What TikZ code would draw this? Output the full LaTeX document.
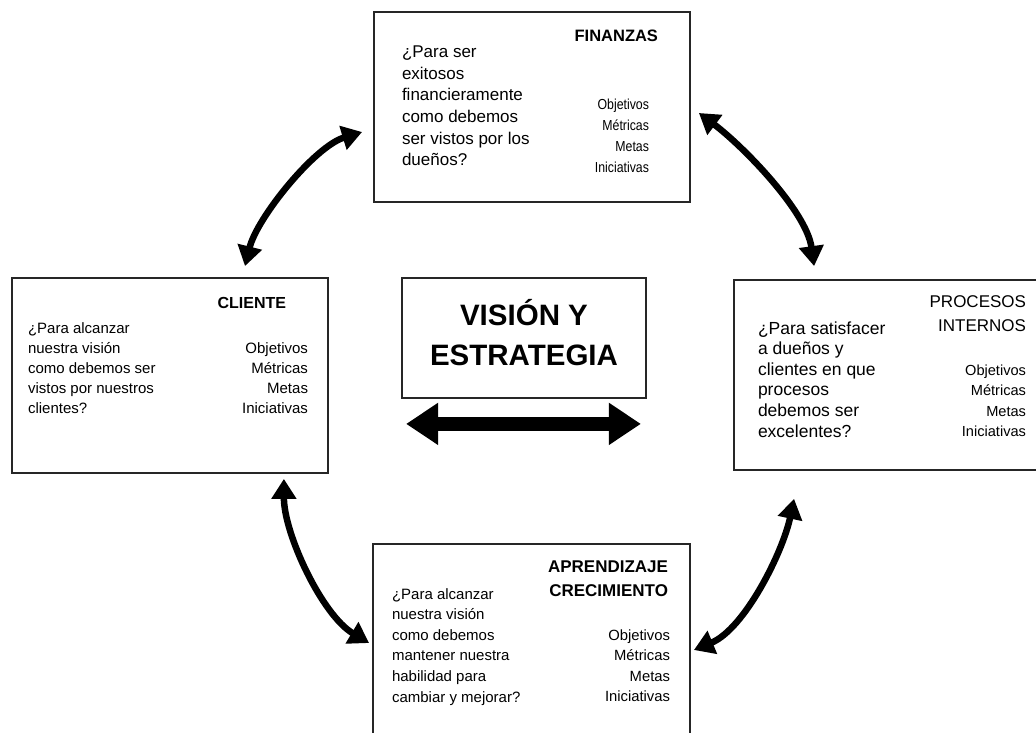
\documentclass[tikz,border=0pt]{standalone}
\usepackage{fontspec}
\setmainfont{Liberation Sans}
\newfontfamily\nrwfont[FakeStretch=0.85]{Liberation Sans}
\usetikzlibrary{arrows.meta,calc}
\newcommand{\setfs}[2]{\fontsize{#1}{#2}\selectfont}
\begin{document}
\begin{tikzpicture}[x=1pt,y=-1pt,
  box/.style={draw=black!85, line width=1.8pt, fill=white, inner sep=0pt},
  txt/.style={inner sep=0pt, outer sep=0pt, text=black},
  carr/.style={line width=6.5pt, {Triangle[length=20pt,width=24pt]}-{Triangle[length=20pt,width=24pt]}},
  bigarr/.style={line width=14pt, {Triangle[length=32pt,width=40pt]}-{Triangle[length=32pt,width=40pt]}}
]
\useasboundingbox (0,0) rectangle (1036,733);
\fill[white] (0,0) rectangle (1036,733);

% boxes
\node[box, minimum width=316pt, minimum height=190pt] (fin) at (532,107) {};
\node[box, minimum width=316pt, minimum height=195pt] (cli) at (170,375.5) {};
\node[box, minimum width=311pt, minimum height=190pt] (pro) at (889.5,375) {};
\node[box, minimum width=317pt, minimum height=201pt] (apr) at (531.5,644.5) {};
\node[box, minimum width=244pt, minimum height=120pt] (vis) at (524,338) {};

% FINANZAS
\node[txt, anchor=base east, font=\bfseries\setfs{16.5}{20}] (finT) at (658,42) {FINANZAS};
\node[txt, anchor=north west, align=left, font=\setfs{17}{21.7}] (finQ) at (402,45.8)
  {¿Para ser\\exitosos\\financieramente\\como debemos\\ser vistos por los\\dueños?};
\node[txt, anchor=north east, align=right, font=\nrwfont\setfs{14.5}{21.2}] (finM) at (649,98.5)
  {Objetivos\\Métricas\\Metas\\Iniciativas};

% CLIENTE
\node[txt, anchor=base east, font=\bfseries\setfs{16}{20}] (cliT) at (286,308) {CLIENTE};
\node[txt, anchor=north west, align=left, font=\setfs{15}{20.2}] (cliQ) at (28,322.2)
  {¿Para alcanzar\\nuestra visión\\como debemos ser\\vistos por nuestros\\clientes?};
\node[txt, anchor=north east, align=right, font=\setfs{15}{20}] (cliM) at (308,342.2)
  {Objetivos\\Métricas\\Metas\\Iniciativas};

% PROCESOS INTERNOS
\node[txt, anchor=north east, align=right, font=\setfs{17}{24}] (proT) at (1026,295.8)
  {PROCESOS\\INTERNOS};
\node[txt, anchor=north west, align=left, font=\setfs{17.5}{20.6}] (proQ) at (758,321.4)
  {¿Para satisfacer\\a dueños y\\clientes en que\\procesos\\debemos ser\\excelentes?};
\node[txt, anchor=north east, align=right, font=\setfs{14.6}{20.6}] (proM) at (1026,364.5)
  {Objetivos\\Métricas\\Metas\\Iniciativas};

% APRENDIZAJE CRECIMIENTO
\node[txt, anchor=north east, align=right, font=\bfseries\setfs{17}{24}] (aprT) at (668,560.8)
  {APRENDIZAJE\\CRECIMIENTO};
\node[txt, anchor=north west, align=left, font=\setfs{15}{20.6}] (aprQ) at (392,588.2)
  {¿Para alcanzar\\nuestra visión\\como debemos\\mantener nuestra\\habilidad para\\cambiar y mejorar?};
\node[txt, anchor=north east, align=right, font=\setfs{14.8}{20.5}] (aprM) at (670,629.4)
  {Objetivos\\Métricas\\Metas\\Iniciativas};

% VISION Y ESTRATEGIA
\node[txt, anchor=base, font=\bfseries\setfs{29.5}{36}] (visA) at (524,325) {VISIÓN Y};
\node[txt, anchor=base, font=\bfseries\setfs{29.5}{36}] (visB) at (524,365) {ESTRATEGIA};

% connectors
\draw[bigarr] ([shift={(5,25)}]vis.south west) -- ([shift={(-6,25)}]vis.south east);
\draw[carr] ([shift={(75,-11)}]cli.north) .. controls +(12,-48.5) and +(-47.5,14.5) .. ([shift={(-11,25)}]fin.west);
\draw[carr] ([shift={(8,6)}]fin.east) .. controls +(44,33) and +(-7.7,-55) .. ([shift={(81,-13)}]pro.north west);
\draw[carr] ([shift={(-45,5)}]cli.south east) .. controls +(0,55) and +(-47,-28) .. ([shift={(-3,-1.5)}]apr.west);
\draw[carr] ([shift={(61,28)}]pro.south west) .. controls +(-11.5,54) and +(50.6,-21) .. ([shift={(3,5.5)}]apr.east);
\end{tikzpicture}
\end{document}
